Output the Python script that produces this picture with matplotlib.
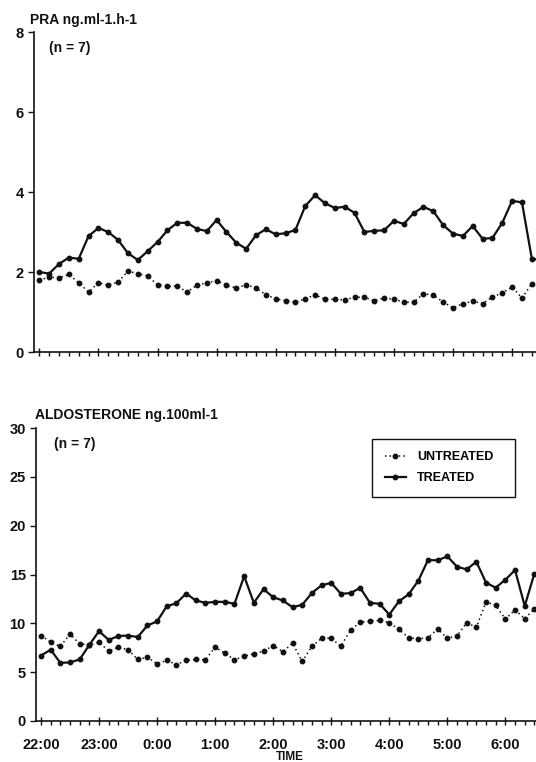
import numpy as np
import matplotlib
matplotlib.use("Agg")
from matplotlib import pyplot as plt
from matplotlib.ticker import MultipleLocator, FixedLocator

# samples every 10 minutes, 22:00 -> 6:30 (hours after 22:00)
minutes = list(range(0, 520, 10))
hours = np.array(minutes) / 60.0

hour_ticks = [0, 1, 2, 3, 4, 5, 6, 7, 8]
hour_labels = ["22:00", "23:00", "0:00", "1:00", "2:00", "3:00", "4:00", "5:00", "6:00"]

pra_untreated = [1.79, 1.875, 1.85, 1.94, 1.73, 1.5, 1.73, 1.67, 1.75, 2.02,
                 1.96, 1.9, 1.68, 1.64, 1.65, 1.5, 1.67, 1.73, 1.78, 1.67,
                 1.6, 1.68, 1.6, 1.43, 1.33, 1.28, 1.24, 1.33, 1.43, 1.32,
                 1.32, 1.3, 1.37, 1.37, 1.28, 1.35, 1.32, 1.25, 1.24, 1.46,
                 1.42, 1.25, 1.1, 1.21, 1.27, 1.21, 1.375, 1.48, 1.625, 1.35,
                 1.71, 1.55]
pra_treated = [2.0, 1.96, 2.2, 2.36, 2.33, 2.9, 3.1, 3.0, 2.8, 2.47,
               2.3, 2.52, 2.75, 3.04, 3.23, 3.23, 3.08, 3.02, 3.3, 3.0,
               2.73, 2.58, 2.92, 3.07, 2.94, 2.97, 3.05, 3.65, 3.92, 3.72,
               3.6, 3.63, 3.48, 3.0, 3.03, 3.04, 3.28, 3.2, 3.47, 3.63,
               3.52, 3.17, 2.96, 2.9, 3.15, 2.83, 2.85, 3.23, 3.78, 3.74,
               2.33, 2.3]

aldo_untreated = [8.75, 8.07, 7.63, 8.9, 7.9, 7.8, 8.07, 7.15, 7.56, 7.3,
                  6.3, 6.53, 5.85, 6.2, 5.78, 6.2, 6.3, 6.27, 7.56, 6.94,
                  6.27, 6.64, 6.88, 7.15, 7.72, 7.1, 7.96, 6.1, 7.63, 8.48,
                  8.48, 7.66, 9.33, 10.1, 10.22, 10.3, 10.08, 9.37, 8.53, 8.42,
                  8.52, 9.43, 8.46, 8.72, 10.05, 9.6, 12.2, 11.83, 10.44, 11.37,
                  10.47, 11.5]
aldo_treated = [6.7, 7.3, 5.95, 6.0, 6.3, 7.8, 9.2, 8.3, 8.7, 8.75,
                8.6, 9.78, 10.2, 11.75, 12.06, 13.05, 12.34, 12.1, 12.2, 12.2,
                12.0, 14.83, 12.1, 13.5, 12.67, 12.34, 11.65, 11.9, 13.1, 13.9,
                14.14, 13.02, 13.1, 13.63, 12.1, 12.0, 10.9, 12.26, 12.97, 14.36,
                16.48, 16.45, 16.86, 15.8, 15.52, 16.31, 14.16, 13.65, 14.47, 15.46,
                11.77, 15.1]

W, H = 536, 762
INK = "#111111"
FONT = "Liberation Sans"


def px_axes(fig, left, bottom, width, height):
    # pixel box (top-left origin) -> figure fraction axes
    return fig.add_axes([left / W, 1 - bottom / H, width / W, height / H])


def style_axes(ax, xlim, ylim, yticks, show_xlabels):
    ax.set_xlim(*xlim)
    ax.set_ylim(*ylim)
    for side in ["top", "right"]:
        ax.spines[side].set_visible(False)
    for side in ["left", "bottom"]:
        ax.spines[side].set_color(INK)
        ax.spines[side].set_linewidth(1.2)

    ax.set_yticks(yticks)
    ax.tick_params(axis="y", direction="out", length=4.3, width=1.0, pad=3,
                   colors=INK, labelsize=10.5)

    ax.xaxis.set_major_locator(FixedLocator(hour_ticks))
    ax.xaxis.set_minor_locator(MultipleLocator(1 / 6))
    ax.tick_params(axis="x", which="major", direction="inout", length=6,
                   width=1.0, pad=9.4, colors=INK, labelsize=10.5)
    ax.tick_params(axis="x", which="minor", direction="out", length=3,
                   width=1.0, colors=INK)
    if show_xlabels:
        ax.set_xticklabels(hour_labels)
    else:
        ax.set_xticklabels([])
    for lbl in ax.get_xticklabels() + ax.get_yticklabels():
        lbl.set_fontweight("bold")
        lbl.set_fontfamily(FONT)


def draw_series(ax, untreated, treated):
    ax.plot(hours, untreated, color=INK, linestyle=(0, (1, 2)), linewidth=1.1,
            marker="o", markersize=3.2, label="UNTREATED", clip_on=False)
    ax.plot(hours, treated, color=INK, linestyle="-", linewidth=1.6,
            marker="o", markersize=3.2, label="TREATED", clip_on=False)


fig = plt.figure(figsize=(W / 100, H / 100), dpi=100)

# PRA panel
ax1 = px_axes(fig, 34, 352, 513.6, 320)
draw_series(ax1, pra_untreated, pra_treated)
style_axes(ax1, (-0.0897, 8.6), (0, 8), [0, 2, 4, 6, 8], False)

# aldosterone panel
ax2 = px_axes(fig, 36, 721, 501.3, 293)
draw_series(ax2, aldo_untreated, aldo_treated)
style_axes(ax2, (-0.086, 8.55), (0, 30), [0, 5, 10, 15, 20, 25, 30], True)

txt = dict(fontfamily=FONT, fontweight="bold", color=INK, va="center", ha="left")
fig.text(30 / W, 1 - 20 / H, "PRA ng.ml-1.h-1", fontsize=10, **txt)
fig.text(49 / W, 1 - 48 / H, "(n = 7)", fontsize=10, **txt)
fig.text(35 / W, 1 - 415 / H, "ALDOSTERONE ng.100ml-1", fontsize=10, **txt)
fig.text(54 / W, 1 - 444 / H, "(n = 7)", fontsize=10, **txt)
fig.text(290 / W, 1 - 756.5 / H, "TIME", fontsize=8.5, fontfamily=FONT,
         fontweight="bold", color=INK, va="center", ha="center")

leg = ax2.legend(loc="upper left", mode="expand", numpoints=1,
                 bbox_to_anchor=(372 / W, 1 - 495 / H, 143 / W, 56 / H),
                 bbox_transform=fig.transFigure,
                 prop={"family": FONT, "weight": "bold", "size": 9},
                 fancybox=False, framealpha=1, edgecolor=INK,
                 borderpad=1.0, labelspacing=0.7, handlelength=1.7,
                 handletextpad=0.9, borderaxespad=0)
leg.get_frame().set_linewidth(1.0)

fig.savefig("out.png", dpi=100)
